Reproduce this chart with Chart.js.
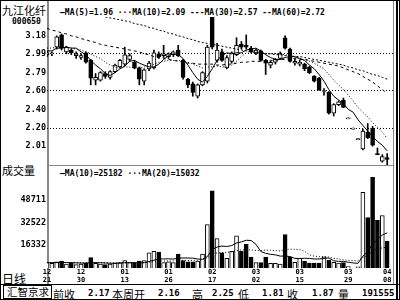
<!DOCTYPE html>
<html>
<head>
<meta charset="utf-8">
<script src="https://cdn.jsdelivr.net/npm/chart.js@4/dist/chart.umd.min.js"></script>
<style>
  body { margin: 0; width: 400px; height: 300px; overflow: hidden; position: relative; background: #fff; }
  canvas { position: absolute; }
  .t { position: absolute; white-space: pre; color: #000; line-height: 1; }
  .n { font: bold 8px "DejaVu Sans Mono", monospace; }
  .c { font: 11px "Noto Sans CJK SC", sans-serif; }
  .ln { position: absolute; }
</style>
</head>
<body>

<div class="ln" style="left:0;top:0;width:398px;height:298px;border:1px solid #000"></div>
<div class="ln" style="left:47px;top:1px;width:2px;height:283px;background:#888"></div>
<div class="ln" style="left:393px;top:1px;width:1px;height:283px;background:#888"></div>
<div class="ln" style="left:396px;top:1px;width:2px;height:298px;background:#000"></div>
<div class="ln" style="left:48px;top:165px;width:345px;height:1px;background:#888"></div>
<div class="ln" style="left:0;top:284px;width:400px;height:1px;background:#000"></div>

<div class="t c" style="left:2px;top:2px">九江化纤</div>
<div class="t n" style="left:12px;top:17px">000650</div>
<div class="t n" style="left:60px;top:8px">—MA(5)=1.96 ···MA(10)=2.09 ---MA(30)=2.57 --MA(60)=2.72</div>

<div class="t c" style="left:2px;top:162px">成交量</div>
<div class="t n" style="left:60px;top:169px">—MA(10)=25182 ···MA(20)=15032</div>

<div class="t c" style="left:2px;top:270px;font-size:12px">日线</div>

<div class="t c" style="left:3px;top:285px;width:44px;height:12px;border:1px solid #000;padding-left:3px;line-height:12px;font-size:10.5px">汇智京求</div>
<div class="t c" style="left:53px;top:286px">前收</div>
<div class="t n" style="left:88px;top:288px;font-size:9px">2.17</div>
<div class="t c" style="left:112px;top:286px">本周开</div>
<div class="t n" style="left:158px;top:288px;font-size:9px">2.16</div>
<div class="t c" style="left:192px;top:286px">高</div>
<div class="t n" style="left:212px;top:288px;font-size:9px">2.25</div>
<div class="t c" style="left:238px;top:286px">低</div>
<div class="t n" style="left:262px;top:288px;font-size:9px">1.81</div>
<div class="t c" style="left:287px;top:286px">收</div>
<div class="t n" style="left:312px;top:288px;font-size:9px">1.87</div>
<div class="t c" style="left:338px;top:286px">量</div>
<div class="t n" style="left:362px;top:288px;font-size:9px">191555</div>

<canvas id="priceChart" width="393" height="148" style="left:0;top:17px"></canvas>
<canvas id="volChart" width="393" height="108" style="left:0;top:177px"></canvas>

<script>
// ===============================
// DATA
// ===============================
const dates = ['12/21','12/22','12/23','12/24','12/27','12/28','12/29','12/30','12/31',
  '01/04','01/05','01/06','01/07','01/10','01/11','01/12','01/13','01/14','01/17','01/18','01/19',
  '01/20','01/21','01/24','01/25','01/26','01/27','01/28','01/31',
  '02/01','02/02','02/03','02/04','02/16','02/17','02/18','02/21','02/22','02/23','02/24','02/25','02/28',
  '03/01','03/02','03/03','03/04','03/07','03/08','03/09','03/10','03/11','03/14','03/15','03/16','03/17',
  '03/18','03/21','03/22','03/23','03/24','03/25','03/28','03/29','03/30','03/31',
  '04/01','04/04','04/05','04/06','04/07','04/08'];
const dateLabels = ['12/21','12/30','01/13','01/26','02/17','03/02','03/15','03/29','04/08'];

const opens = [2.98,2.99,3.06,3.19,3.01,3.03,2.97,2.95,3.00,2.92,
  2.71,2.71,2.78,2.74,2.80,2.85,2.88,2.93,2.90,2.84,
  2.70,2.83,2.84,2.99,2.97,2.96,2.98,3.03,2.92,2.72,
  2.67,2.54,2.66,2.70,3.38,2.92,3.01,2.84,2.91,2.98,
  3.09,3.08,3.05,3.00,3.02,2.92,2.87,2.90,2.94,3.16,
  3.04,2.89,2.88,2.88,2.85,2.75,2.73,2.59,2.58,2.36,
  2.45,2.50,2.30,2.19,2.08,1.98,2.16,2.20,1.93,1.85,
  1.89];
const highs = [3.02,3.01,3.18,3.20,3.07,3.04,3.01,2.99,3.01,2.93,
  2.78,2.80,2.80,2.81,2.88,2.93,3.06,2.99,2.92,2.85,
  2.83,2.91,3.03,3.01,3.08,3.00,3.02,3.08,2.93,2.73,
  2.69,2.67,2.80,3.08,3.38,3.10,3.04,2.97,3.01,3.16,
  3.12,3.19,3.07,3.04,3.03,2.93,2.91,2.94,3.01,3.18,
  3.05,2.93,2.92,2.89,2.86,2.76,2.74,2.62,2.59,2.46,
  2.49,2.52,2.30,2.19,2.08,2.19,2.25,2.22,1.99,1.92,
  1.93];
const lows = [2.96,2.97,3.04,3.03,2.99,2.98,2.94,2.93,2.89,2.66,
  2.66,2.70,2.73,2.72,2.79,2.84,2.86,2.91,2.83,2.66,
  2.66,2.81,2.83,2.94,2.95,2.94,2.96,2.96,2.72,2.63,
  2.54,2.52,2.65,2.68,3.04,2.90,2.91,2.83,2.89,2.97,
  3.04,3.04,3.00,2.98,2.91,2.77,2.84,2.88,2.93,3.04,
  2.90,2.87,2.86,2.81,2.78,2.69,2.60,2.55,2.35,2.33,
  2.44,2.42,2.30,2.19,2.08,1.97,2.09,2.01,1.92,1.84,
  1.81];
const closes = [3.00,3.00,3.17,3.05,3.06,3.00,2.99,2.97,2.90,2.73,
  2.74,2.79,2.75,2.80,2.87,2.92,2.98,2.97,2.84,2.72,
  2.82,2.89,3.00,2.96,2.99,2.99,3.01,2.97,2.74,2.66,
  2.58,2.66,2.79,3.06,3.06,3.03,2.92,2.95,3.00,3.08,
  3.06,3.06,3.01,3.03,2.92,2.89,2.90,2.93,2.99,3.05,
  2.91,2.91,2.90,2.83,2.79,2.70,2.61,2.60,2.36,2.45,
  2.48,2.42,2.30,2.19,2.08,2.17,2.10,2.02,1.92,1.90,
  1.87];

const ma5 = [3.02,3.02,3.05,3.05,3.06,3.05,3.05,3.01,2.98,2.92,
  2.87,2.83,2.78,2.76,2.79,2.83,2.86,2.91,2.92,2.89,
  2.87,2.85,2.85,2.88,2.93,2.97,2.99,2.98,2.94,2.87,
  2.79,2.72,2.69,2.75,2.83,2.92,2.97,3.00,2.99,3.00,
  3.00,3.03,3.04,3.05,3.02,2.98,2.95,2.93,2.93,2.95,
  2.96,2.96,2.94,2.92,2.87,2.83,2.77,2.70,2.61,2.54,
  2.50,2.46,2.40,2.37,2.29,2.23,2.17,2.11,2.06,2.02,
  1.96];
const ma10 = [3.05,3.05,3.06,3.06,3.06,3.05,3.04,3.03,3.01,2.99,
  2.96,2.94,2.90,2.87,2.85,2.85,2.85,2.85,2.84,2.84,
  2.85,2.86,2.88,2.90,2.91,2.92,2.92,2.92,2.91,2.90,
  2.88,2.86,2.84,2.85,2.85,2.86,2.85,2.85,2.87,2.91,
  2.96,3.00,3.02,3.02,3.01,2.99,2.99,2.99,2.99,2.98,
  2.97,2.95,2.94,2.92,2.91,2.89,2.86,2.83,2.77,2.71,
  2.66,2.61,2.55,2.49,2.42,2.37,2.32,2.26,2.21,2.16,
  2.09];
const ma30 = [3.26,3.24,3.23,3.21,3.20,3.18,3.17,3.15,3.14,3.12,
  3.11,3.09,3.08,3.07,3.06,3.05,3.04,3.03,3.02,3.01,
  2.99,2.98,2.96,2.95,2.94,2.93,2.92,2.91,2.90,2.89,
  2.89,2.88,2.88,2.88,2.88,2.87,2.87,2.88,2.88,2.89,
  2.90,2.90,2.91,2.91,2.91,2.92,2.92,2.92,2.93,2.93,
  2.94,2.94,2.93,2.93,2.92,2.91,2.90,2.89,2.88,2.87,
  2.86,2.84,2.82,2.80,2.78,2.75,2.72,2.69,2.65,2.61,
  2.57];
const ma60 = [3.52,3.51,3.50,3.49,3.48,3.47,3.46,3.45,3.43,3.42,
  3.41,3.40,3.38,3.37,3.36,3.35,3.34,3.33,3.31,3.30,
  3.29,3.27,3.26,3.24,3.23,3.21,3.20,3.18,3.17,3.15,
  3.14,3.12,3.11,3.10,3.09,3.08,3.07,3.06,3.05,3.04,
  3.03,3.02,3.01,3.00,3.00,2.99,2.99,2.98,2.98,2.97,
  2.97,2.96,2.96,2.95,2.94,2.93,2.92,2.91,2.90,2.89,
  2.88,2.87,2.85,2.84,2.82,2.81,2.79,2.77,2.76,2.74,
  2.72];

const volumes = [4000,3500,4500,5000,3000,3500,2500,3000,3500,7500,
  3500,3000,2500,3000,3500,4000,5500,4000,3500,5000,
  5500,11000,12000,11500,4000,4500,4000,10000,5500,4500,
  4500,5000,10000,31000,55000,21000,11000,7000,12000,23000,
  12000,17000,8000,4000,4000,8000,3500,3500,3000,24000,
  8000,4100,7100,5100,3600,3600,3600,8100,5600,4100,
  3600,4000,1200,142,923,54000,36000,64900,34000,37500,
  19155];
const volMa10 = [4000,3950,4000,4100,4000,3950,3800,3700,3650,4000,
  3950,3900,3700,3500,3550,3600,3900,4000,4000,3750,
  3950,4750,5700,6550,6600,6650,6500,7100,7300,7250,
  7150,6550,6350,8300,13400,15050,15750,15450,16100,17950,
  18700,19900,19700,17000,11900,10600,9850,9500,8600,8700,
  8300,7010,6920,7030,6990,6550,6560,7020,7280,5290,
  4850,4840,4250,3754,3487,8527,11767,17447,20287,23627,
  25182];
const volMa20 = [4000,3975,4000,4050,4000,3975,3900,3850,3825,4000,
  3975,3925,3850,3800,3775,3775,3850,3850,3825,3875,
  3950,4325,4700,5025,5075,5125,5200,5550,5650,5500,
  5550,5650,6025,7425,10000,10850,11125,11275,11700,12600,
  12925,13225,13025,12650,12650,12825,12800,12475,12350,13325,
  13500,13455,13310,12015,9445,8575,8205,8260,7940,6995,
  6575,5925,5585,5392,5238,7538,9163,12233,13783,14458,
  15032];

const priceMin = 1.81, priceMax = 3.38;
const priceTicks = [2.01, 2.20, 2.40, 2.60, 2.79, 2.99, 3.18];
const priceGrid = [2.20, 2.60, 2.99];
const volMin = 142, volMax = 64900;
const volTicks = [16332, 32522, 48711];

// ===============================
// HELPERS
// ===============================
const MONO = "'DejaVu Sans Mono', monospace";
const up = i => closes[i] >= opens[i];
const pts = arr => arr.map((v, i) => ({ x: i, y: v }));
const candleFill = dates.map((d, i) => up(i) ? '#fff' : '#000');
const tickIdx = dateLabels.map(l => dates.indexOf(l));

function xAxis(show) {
  return {
    type: 'linear', min: 0, max: 71.2, offset: false, display: show,
    grid: { display: false, drawTicks: false }, border: { display: false },
    afterBuildTicks: s => { s.ticks = tickIdx.map(v => ({ value: v })); },
    afterFit: s => { s.paddingLeft = 0; s.paddingRight = 0; if (show) s.height = 17; },
    ticks: {
      autoSkip: false, maxRotation: 0, minRotation: 0, padding: 1, color: '#000',
      font: { family: MONO, size: 7, weight: 'bold', lineHeight: 1.05 },
      callback: v => dates[v] ? dates[v].split('/') : ''
    }
  };
}

function yAxis(min, max, ticks, fmt, grid) {
  return {
    type: 'linear', position: 'left', min: min, max: max,
    afterBuildTicks: s => { s.ticks = ticks.map(v => ({ value: v })); },
    afterFit: s => { s.width = 47; s.paddingTop = 0; s.paddingBottom = 0; },
    grid: {
      drawTicks: false,
      color: c => (grid && c.tick && grid.includes(c.tick.value)) ? '#000' : 'rgba(0,0,0,0)'
    },
    border: { display: false, dash: [1, 2] },
    ticks: {
      padding: 1, color: '#000', autoSkip: false,
      font: { family: MONO, size: 8.5, weight: 'bold' },
      callback: fmt
    }
  };
}

const common = {
  responsive: false, animation: false, devicePixelRatio: 1,
  layout: { padding: 0 },
  plugins: { legend: { display: false }, tooltip: { enabled: false } },
  events: []
};

// ===============================
// PRICE CHART (candles + MA)
// ===============================
new Chart(document.getElementById('priceChart'), {
  data: {
    datasets: [
      { type: 'line', data: pts(ma5), borderColor: '#000', borderWidth: 1, pointRadius: 0, order: 0 },
      { type: 'line', data: pts(ma10), borderColor: '#000', borderWidth: 1, borderDash: [1, 2], pointRadius: 0, order: 0 },
      { type: 'line', data: pts(ma30), borderColor: '#000', borderWidth: 1, borderDash: [3, 3], pointRadius: 0, order: 0 },
      { type: 'line', data: pts(ma60), borderColor: '#000', borderWidth: 1, borderDash: [2, 2], pointRadius: 0, order: 0 },
      {
        type: 'bar', data: dates.map((d, i) => ({ x: i, y: [opens[i], closes[i]] })),
        backgroundColor: candleFill, borderColor: '#000', borderWidth: 1, borderSkipped: false,
        barThickness: 4, minBarLength: 1, grouped: false, order: 1
      },
      {
        type: 'bar', data: dates.map((d, i) => ({ x: i, y: [lows[i], highs[i]] })),
        backgroundColor: '#000', borderWidth: 0, barThickness: 1, minBarLength: 1, grouped: false, order: 2
      }
    ]
  },
  options: Object.assign({}, common, {
    scales: {
      x: xAxis(false),
      y: yAxis(priceMin, priceMax, priceTicks, v => v.toFixed(2), priceGrid)
    }
  })
});

// ===============================
// VOLUME CHART
// ===============================
new Chart(document.getElementById('volChart'), {
  data: {
    datasets: [
      { type: 'line', data: pts(volMa10), borderColor: '#000', borderWidth: 1, pointRadius: 0, order: 0 },
      { type: 'line', data: pts(volMa20), borderColor: '#000', borderWidth: 1, borderDash: [1, 2], pointRadius: 0, order: 0 },
      {
        type: 'bar', data: pts(volumes),
        backgroundColor: candleFill, borderColor: '#000', borderWidth: 1, borderSkipped: 'bottom',
        barThickness: 4, grouped: false, order: 1
      }
    ]
  },
  options: Object.assign({}, common, {
    scales: {
      x: xAxis(true),
      y: yAxis(volMin, volMax, volTicks, v => String(v), null)
    }
  })
});
</script>
</body>
</html>
